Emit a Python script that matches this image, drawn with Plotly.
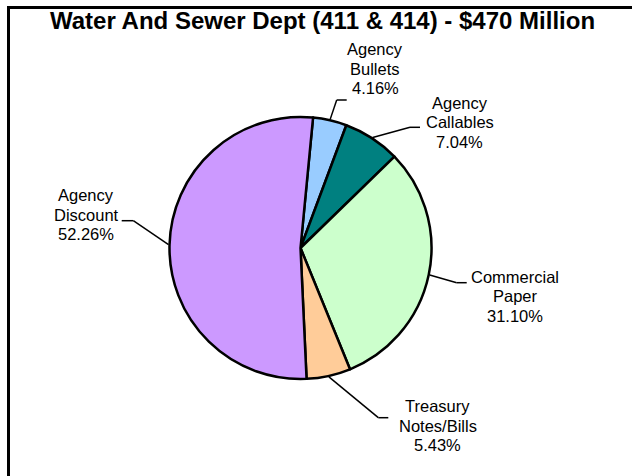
import math
import plotly.graph_objects as go

# ---- data ----
categories = ["Agency Bullets", "Agency Callables", "Commercial Paper",
              "Treasury Notes/Bills", "Agency Discount"]
label_lines = [["Agency", "Bullets"], ["Agency", "Callables"], ["Commercial", "Paper"],
               ["Treasury", "Notes/Bills"], ["Agency", "Discount"]]
percents = [4.16, 7.04, 31.10, 5.43, 52.26]
colors = ["#99CCFF", "#008080", "#CCFFCC", "#FFCC99", "#CC99FF"]
title_text = "Water And Sewer Dept (411 & 414) - $470 Million"

# ---- layout geometry (pixels) ----
W, H = 632, 476
CX, CY, R = 300.5, 248.0, 131.0
ROT = 5.5
FONT = "Arial, Liberation Sans, sans-serif"
LS = 19.5  # line spacing of labels

# label placement: (center x, cap-top y of first line), leader elbow, leader end
label_pos = [(375, 43.3), (459.5, 96.7), (515, 270.7), (437.5, 400), (86.4, 189.3)]
elbows = [(336.7, 100), (410, 127.3), (456.7, 282.7), (378.3, 417.7), (133.3, 220.7)]
ends = [(346.7, 100), (420, 127.3), (466.7, 282.7), (388.3, 417.7), (121.7, 220.7)]


def px(x):
    return x / W


def py(y):
    return 1 - y / H


fig = go.Figure(go.Pie(
    labels=categories, values=percents, sort=False, direction="clockwise",
    rotation=ROT, textinfo="none", hoverinfo="label+percent",
    marker=dict(colors=colors, line=dict(color="black", width=2.5)),
    domain=dict(x=[px(CX - R), px(CX + R)], y=[py(CY + R), py(CY - R)]),
    showlegend=False,
))

shapes = []
annotations = []
total = sum(percents)
start = ROT
for i, v in enumerate(percents):
    ang = v / total * 360
    mid = math.radians(start + ang / 2)
    start += ang
    ex = CX + (R + 1) * math.sin(mid)
    ey = CY - (R + 1) * math.cos(mid)
    pts = [(ex, ey), elbows[i], ends[i]]
    for (x0, y0), (x1, y1) in zip(pts[:-1], pts[1:]):
        shapes.append(dict(type="line", xref="paper", yref="paper",
                           x0=px(x0), y0=py(y0), x1=px(x1), y1=py(y1),
                           line=dict(color="black", width=1.5)))
    lines = label_lines[i] + [f"{v:.2f}%"]
    lx, ltop = label_pos[i]
    for j, t in enumerate(lines):
        annotations.append(dict(text=t, xref="paper", yref="paper",
                                x=px(lx), y=py(ltop + 6 + j * LS),
                                xanchor="center", yanchor="middle", showarrow=False,
                                font=dict(family=FONT, size=16.5, color="black")))

# frame (top and left edges of the chart border)
shapes.append(dict(type="line", xref="paper", yref="paper", x0=px(7), y0=py(7.5), x1=1, y1=py(7.5),
                   line=dict(color="black", width=3)))
shapes.append(dict(type="line", xref="paper", yref="paper", x0=px(8.5), y0=py(6), x1=px(8.5), y1=0,
                   line=dict(color="black", width=3)))

annotations.append(dict(text=f"<b>{title_text}</b>", xref="paper", yref="paper",
                        x=px(322), y=py(21), xanchor="center", yanchor="middle", showarrow=False,
                        font=dict(family=FONT, size=24, color="black")))

fig.update_layout(width=W, height=H, margin=dict(l=0, r=0, t=0, b=0),
                  paper_bgcolor="white", plot_bgcolor="white",
                  shapes=shapes, annotations=annotations)

fig.write_html("out.html", config={"displayModeBar": False},
               post_script="document.body.style.margin='0';")
